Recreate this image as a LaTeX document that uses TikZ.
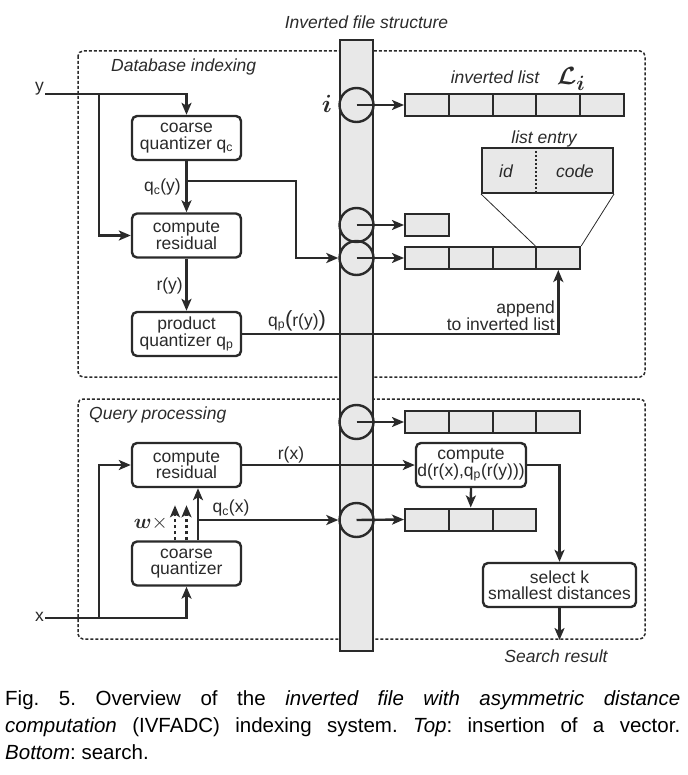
\documentclass[tikz,border=0pt]{standalone}
\usepackage{fontspec}
\setmainfont{Liberation Sans}
\usepackage{bm}
\usetikzlibrary{arrows.meta}
\definecolor{ink}{HTML}{2A2A2A}
\definecolor{cellgray}{HTML}{E8E8E8}
\tikzset{
  arr/.style={draw=ink, line width=2.4pt, -{Stealth[length=12pt,width=10pt,inset=3pt]}},
  arrdash/.style={arr, dash pattern=on 3.5pt off 2.5pt},
  proc/.style={draw=ink, line width=2.4pt, rounded corners=5pt, fill=white,
    minimum width=109pt, minimum height=44pt, align=center, inner sep=0pt,
    text=ink, font=\fontsize{17.5}{16.5}\selectfont},
  cell/.style={draw=ink, line width=2pt, fill=cellgray, minimum width=43.8pt,
    minimum height=22pt, inner sep=0pt},
  slot/.style={circle, draw=ink, line width=2.4pt, minimum size=34pt, inner sep=0pt},
  region/.style={draw=ink, line width=1.5pt, dash pattern=on 3pt off 2pt, rounded corners=5pt},
  lbl/.style={text=ink, inner sep=0pt, font=\fontsize{17.5}{17}\selectfont},
  ital/.style={text=ink, inner sep=0pt, font=\fontsize{17.5}{17}\selectfont\itshape},
  thinline/.style={draw=ink, line width=0.8pt}
}
\newcommand{\bigpar}[1]{{\fontsize{22}{22}\selectfont #1}}
\begin{document}
\begin{tikzpicture}[x=1pt,y=-1pt]
\useasboundingbox (0,0) rectangle (687,775);

% dashed regions
\draw[region] (78,51) rectangle (645,377);
\draw[region] (78,399) rectangle (645,639);
\node[ital, anchor=west] (dbtitle) at (111,67) {Database indexing};
\node[ital, anchor=west] (qptitle) at (89,415) {Query processing};

% inverted file column
\node[ital] (ifstitle) at (366.5,22) {Inverted file structure};
\node[draw=ink, fill=cellgray, line width=2.4pt, minimum width=33pt,
      minimum height=611pt, inner sep=0pt] (bar) at (356.5,345.5) {};

% slots of the inverted file
\node[slot] (c1) at (356.5,105) {};
\node[slot] (c2) at (356.5,225) {};
\node[slot] (c3) at (356.5,258) {};
\node[slot] (c4) at (356.5,422) {};
\node[slot] (c5) at (356.5,520) {};
\node[text=ink, inner sep=0pt, font=\fontsize{31}{31}\selectfont] (ilabel) at (327,104) {$\bm{i}$};

% inverted lists
\foreach \r/\y/\n in {1/105/5, 2/225/1, 3/258/4, 4/422/4, 5/519.5/3} {
  \foreach \k in {1,...,\n}
    \node[cell] (l\r-\k) at ({405+43.8*(\k-0.5)},\y) {};
  \draw[arr] (c\r.center) -- (l\r-1.west);
}
\node[ital] (invlist) at (495,77) {inverted list};
\node[text=ink, inner sep=0pt, font=\fontsize{28}{28}\selectfont] (Li) at (571,79) {$\bm{\mathcal{L}_{i}}$};

% list entry detail
\node[ital] (entrytitle) at (544,139) {list entry};
\node[draw=ink, fill=cellgray, line width=2pt, minimum width=131pt,
      minimum height=45pt, inner sep=0pt] (entry) at (547.5,170.5) {};
\draw[ink, line width=1.5pt, dash pattern=on 2pt off 2pt] (entry.north -| 536,0) -- (entry.south -| 536,0);
\node[ital] (idtxt) at (506,171) {id};
\node[ital] (codetxt) at (575,171) {code};
\draw[thinline] (entry.south west) -- (l3-4.north west);
\draw[thinline] (entry.south east) -- (l3-4.north east);

% database indexing blocks
\node[proc] (cq1) at (186.5,138) {coarse\\quantizer q\textsubscript{c}};
\node[proc] (cr1) at (186.5,235.5) {compute\\residual};
\node[proc] (pq1) at (186.5,334) {product\\quantizer q\textsubscript{p}};

\coordinate (yin) at (45,94);
\coordinate (yj) at (99,94);
\node[lbl, anchor=base east] (ylab) at (44,92) {y};
\draw[arr] (yin) -| (cq1.north);
\draw[arr] (yj) |- (cr1.west);
\draw[arr] (cq1.south) -- (cr1.north);
\coordinate (qyj) at (186.5,181);
\draw[arr] (qyj) -- (296,181) |- (c3.west);
\node[lbl, anchor=east] (qylab) at (181,187) {q\textsubscript{c}(y)};
\draw[arr] (cr1.south) -- (pq1.north);
\node[lbl, anchor=east] (rylab) at (183,286) {r(y)};
\draw[arr] (pq1.east) -| (l3-4.south);
\node[lbl] (qprlab) at (297,321) {q\textsubscript{p}\bigpar{(}r(y)\bigpar{)}};
\node[lbl, anchor=east, align=right] (applab) at (555,316) {append\\to inverted list};

% query processing blocks
\node[proc] (cr2) at (186.5,465) {compute\\residual};
\node[proc] (cq2) at (186.5,563.5) {coarse\\quantizer};
\node[proc, minimum width=110pt] (cd) at (471,465) {compute\\d(r(x),q\textsubscript{p}(r(y)))};
\node[proc, minimum width=153pt] (sel) at (559.5,585) {select k\\smallest distances};

\coordinate (xin) at (45,618);
\coordinate (xj) at (99,618);
\node[lbl, anchor=base east] (xlab) at (44,621) {x};
\draw[arr] (xin) -| (cq2.south);
\draw[arr] (xj) |- (cr2.west);
\draw[arr] ([xshift=11.5pt]cq2.north) -- ([xshift=11.5pt]cr2.south);
\draw[arrdash] ([xshift=-11.5pt]cq2.north) -- ++(0,-35);
\draw[arrdash] ([xshift=0pt]cq2.north) -- ++(0,-35);
\node[text=ink, inner sep=0pt, anchor=base east, font=\fontsize{22}{22}\selectfont] (wlab) at (168,528)
  {$\bm{w}{\times}$};
\coordinate (qxj) at (198,520);
\draw[arr] (qxj) -- (c5.west);
\node[lbl] (qxlab) at (231,508) {q\textsubscript{c}(x)};
\draw[arr] (cr2.east) -- (cd.west);
\node[lbl] (rxlab) at (291,455) {r(x)};
\draw[arr] (cd.south) -- (l5-2.north);
\draw[arr] (cd.east) -| (sel.north);
\coordinate (res) at (559.5,640);
\draw[arr] (sel.south) -- (res);
\node[ital] (reslab) at (556,656) {Search result};

% caption
\node[anchor=base west, text width=675pt, align=justify, inner sep=0pt,
      text=black, font=\fontsize{20.5}{27}\selectfont\frenchspacing] (caption) at (5,705)
  {Fig.~5. Overview of the \textit{inverted file with asymmetric distance}\linebreak
   \textit{computation} (IVFADC) indexing system. \textit{Top}: insertion of a vector.\linebreak
   \textit{Bottom}: search.};
\end{tikzpicture}
\end{document}
